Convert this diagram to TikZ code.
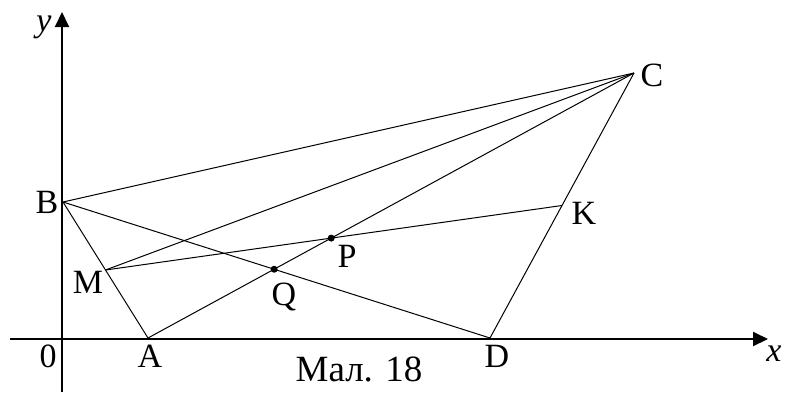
\documentclass[tikz,border=0pt]{standalone}
\usepackage{fontspec}
\setmainfont{Liberation Serif}
\usetikzlibrary{arrows.meta,calc}
\begin{document}
\begin{tikzpicture}[x=1pt,y=-1pt,
  axis/.style={line width=2pt,-{Triangle[length=15pt,width=14pt]}},
  seg/.style={line width=1pt},
  lbl/.style={font=\fontsize{34}{36}\selectfont,inner sep=0pt},
  ilbl/.style={font=\itshape\fontsize{34}{36}\selectfont,inner sep=0pt},
  dotpt/.style={circle,fill,inner sep=0pt,minimum size=7pt}]
\useasboundingbox (0,0) rectangle (787,392);
% points
\coordinate (O) at (62,339);
\coordinate (B) at (63,202);
\coordinate (A) at (148,338);
\coordinate (D) at (490,338);
\coordinate (C) at (634,73);
\coordinate (M) at ($(A)!0.5!(B)$);
\coordinate (K) at ($(C)!0.5!(D)$);
\coordinate (xs) at (10,339);
\coordinate (xe) at (768,339);
\coordinate (ys) at (62,392);
\coordinate (ye) at (62,12);
% axes
\draw[axis] (xs) -- (xe);
\draw[axis] (ys) -- (ye);
% segments
\draw[seg] (B) -- (C);
\draw[seg] (B) -- (D);
\draw[seg] (B) -- (A);
\draw[seg] (A) -- (C);
\draw[seg] (M) -- (C);
\draw[seg] (M) -- (K);
\draw[seg] (C) -- (D);
% intersections
\node[dotpt] (Q) at (intersection of A--C and B--D) {};
\node[dotpt] (P) at (intersection of A--C and M--K) {};
% labels
\node[ilbl] (ylab) at (44,27) {y};
\node[ilbl] (xlab) at (774,354) {x};
\node[lbl] (Olab) at (48,356) {0};
\node[lbl] (Alab) at (150,356) {A};
\node[lbl] (Dlab) at (497,356) {D};
\node[lbl] (Blab) at (47,202) {B};
\node[lbl] (Mlab) at (88,282) {M};
\node[lbl] (Qlab) at (284,297) {Q};
\node[lbl] (Plab) at (347,256) {P};
\node[lbl] (Klab) at (584,213) {K};
\node[lbl] (Clab) at (652,75) {C};
\node[lbl,font=\fontsize{37}{40}\selectfont] (cap) at (359,369) {Мал. 18};
\end{tikzpicture}
\end{document}
